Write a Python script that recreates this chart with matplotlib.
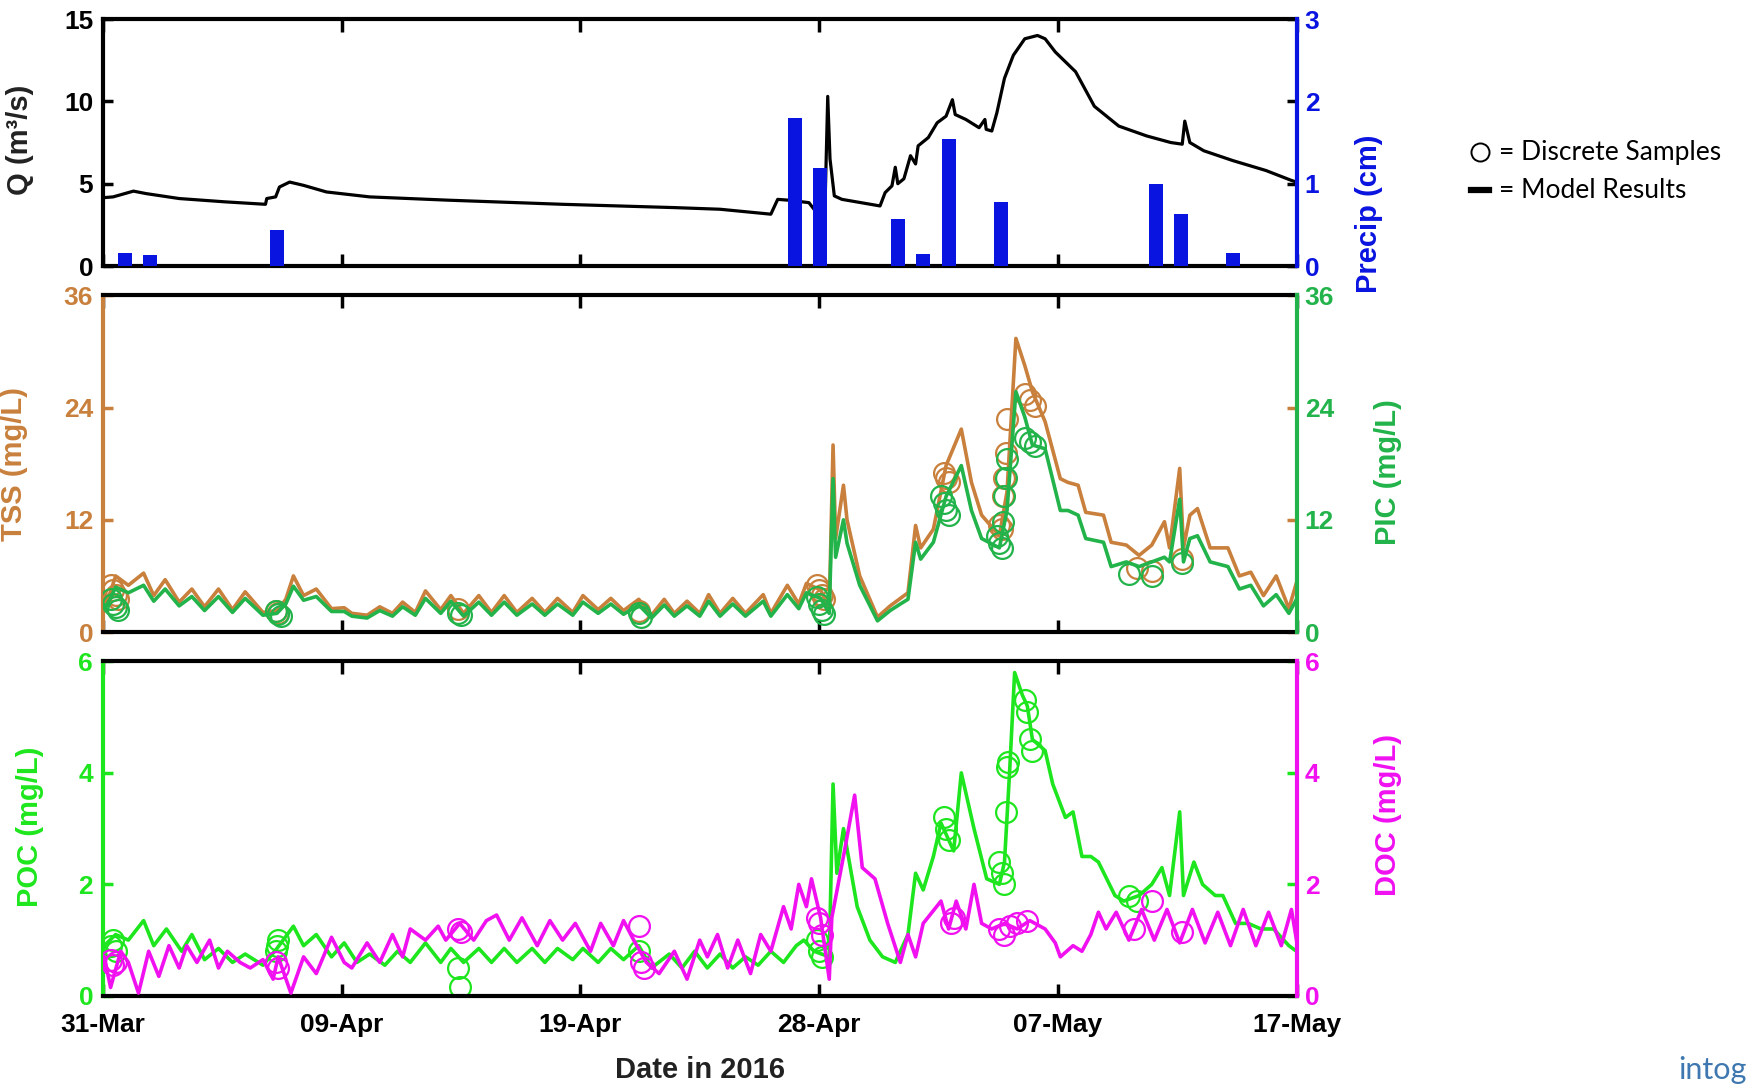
import numpy as np
import matplotlib.pyplot as plt
from matplotlib.lines import Line2D

plt.rcParams['font.family'] = ['Liberation Sans', 'DejaVu Sans']
plt.rcParams['font.weight'] = 'bold'
plt.rcParams['axes.labelweight'] = 'bold'

# --- data (days since 31-Mar-2016) ---
xtick_labels = ['31-Mar', '09-Apr', '19-Apr', '28-Apr', '07-May', '17-May']

# discharge Q (m3/s)
q_t = [0.0, 0.4, 1.2, 1.7, 3.0, 4.8, 6.4, 6.45, 6.8, 6.95, 7.35, 7.9, 8.8, 10.5, 13.6,
       18.1, 22.5, 24.3, 26.3, 26.57, 27.0, 27.8, 28.0, 28.44, 28.54, 28.63, 28.8, 29.1,
       30.6, 30.8, 31.07, 31.2, 31.3, 31.54, 31.8, 32.0, 32.1, 32.5, 32.85, 33.2, 33.45,
       33.56, 33.98, 34.5, 34.73, 34.78, 35.0, 35.2, 35.5, 35.85, 36.3, 36.8, 37.1, 37.5,
       38.3, 39.04, 40.0, 41.1, 42.05, 42.5, 42.6, 42.8, 43.35, 44.5, 45.8, 46.8, 47.0]
q = [4.15, 4.2, 4.55, 4.4, 4.1, 3.9, 3.75, 4.1, 4.2, 4.8, 5.1, 4.9, 4.5, 4.2, 4.0,
     3.75, 3.55, 3.45, 3.15, 4.05, 4.0, 3.85, 3.45, 4.05, 10.3, 6.5, 4.26, 4.05,
     3.65, 4.46, 4.87, 6.0, 5.0, 5.3, 6.7, 6.2, 7.3, 7.8, 8.7, 9.1, 10.1,
     9.2, 8.9, 8.4, 8.9, 8.3, 8.2, 9.3, 11.4, 12.8, 13.8, 14.0, 13.8, 13.0,
     11.8, 9.7, 8.5, 7.9, 7.5, 7.4, 8.8, 7.5, 7.0, 6.4, 5.8, 5.2, 5.1]

# daily precipitation (cm)
precip_t = [0.85, 1.85, 6.85, 27.25, 28.25, 31.3, 32.3, 33.3, 35.35, 41.45, 42.45, 44.5]
precip = [0.16, 0.14, 0.44, 1.8, 1.19, 0.57, 0.15, 1.54, 0.78, 1.0, 0.63, 0.16]

# TSS and PIC model results (mg/L)
mid_t = [0.0, 0.16, 0.5, 1.0, 1.6, 2.0, 2.45, 3.0, 3.5, 4.0, 4.55, 5.1, 5.6, 6.3, 6.85,
         7.2, 7.5, 7.9, 8.4, 9.0, 9.5, 9.8, 10.4, 10.9, 11.4, 11.8, 12.3, 12.7, 13.3,
         13.7, 14.2, 14.8, 15.3, 15.8, 16.3, 16.9, 17.4, 17.9, 18.5, 18.9, 19.5, 20.0,
         20.5, 21.1, 21.6, 22.1, 22.5, 23.0, 23.5, 23.85, 24.3, 24.8, 25.3, 26.0, 26.3,
         26.95, 27.4, 27.7, 28.26, 28.6, 28.75, 28.85, 29.16, 29.3, 29.8, 30.5, 31.0,
         31.4, 31.7, 32.0, 32.2, 32.7, 33.2, 33.8, 34.2, 34.6, 35.3, 35.6, 35.95, 36.3,
         36.6, 37.1, 37.7, 38.0, 38.4, 38.7, 39.4, 39.7, 40.3, 40.8, 41.3, 41.8, 42.0,
         42.4, 42.55, 42.8, 43.1, 43.6, 44.3, 44.75, 45.2, 45.7, 46.2, 46.7, 47.0]
tss = [3.5, 3.2, 6.0, 5.0, 6.3, 3.9, 5.6, 3.2, 4.6, 2.7, 4.6, 2.4, 4.3, 2.1, 2.3,
       3.5, 6.0, 3.9, 4.6, 2.5, 2.6, 2.0, 1.8, 2.7, 2.0, 3.2, 2.1, 4.4, 2.4,
       3.9, 2.0, 3.9, 2.1, 3.9, 2.1, 3.6, 2.1, 3.6, 2.1, 3.9, 2.4, 3.6,
       2.3, 3.5, 1.8, 3.5, 2.0, 3.3, 2.0, 4.0, 2.0, 3.6, 2.0, 4.0, 2.0,
       5.0, 3.0, 5.2, 4.5, 2.5, 20.0, 10.0, 15.7, 12.0, 6.0, 1.6, 2.8,
       3.6, 4.2, 11.4, 9.0, 11.0, 17.8, 21.7, 16.0, 12.5, 10.3, 15.0, 31.4, 28.5,
       25.7, 22.5, 16.4, 16.0, 15.7, 12.8, 12.5, 9.6, 9.3, 8.2, 9.3, 11.8, 9.0,
       17.5, 9.0, 12.5, 13.2, 9.0, 9.0, 6.0, 6.4, 3.9, 6.0, 2.5, 5.3]
pic = [3.0, 2.8, 4.8, 4.2, 5.0, 3.3, 4.6, 2.8, 3.8, 2.3, 3.8, 2.1, 3.6, 1.8, 2.0,
       3.0, 4.9, 3.4, 3.8, 2.2, 2.2, 1.7, 1.5, 2.3, 1.7, 2.7, 1.8, 3.6, 2.0,
       3.3, 1.7, 3.2, 1.8, 3.2, 1.8, 3.0, 1.8, 3.0, 1.8, 3.2, 2.0, 3.0,
       1.9, 2.9, 1.5, 2.9, 1.7, 2.8, 1.7, 3.3, 1.7, 3.0, 1.7, 3.3, 1.7,
       4.0, 2.5, 4.2, 3.6, 2.0, 16.4, 8.0, 12.0, 9.5, 5.0, 1.2, 2.3,
       3.0, 3.5, 9.6, 7.8, 9.6, 14.5, 17.8, 13.0, 10.0, 9.0, 13.0, 25.7, 23.0,
       20.0, 19.6, 13.0, 13.0, 12.5, 10.0, 9.6, 7.0, 7.5, 7.0, 7.5, 8.0, 7.5,
       14.2, 7.5, 10.0, 10.3, 7.5, 7.0, 4.6, 5.0, 2.8, 4.0, 2.0, 3.5]

# discrete samples
tss_samp_t = [0.3, 0.4, 0.5, 0.6, 6.8, 6.9, 14.0, 21.1, 28.1, 28.2, 28.3, 28.4, 33.1, 33.2,
              33.3, 35.3, 35.4, 35.45, 35.5, 35.55, 35.6, 36.3, 36.5, 36.7, 40.7, 41.3, 42.5]
tss_samp = [5.0, 4.5, 4.0, 3.5, 2.3, 2.0, 2.5, 2.2, 5.0, 4.5, 4.0, 3.5, 17.0, 16.5,
            16.0, 11.5, 11.0, 14.6, 16.5, 19.2, 22.8, 25.5, 24.8, 24.2, 6.8, 6.5, 7.8]
pic_samp_t = [0.3, 0.4, 0.5, 0.6, 6.8, 6.9, 7.0, 14.0, 14.1, 21.1, 21.2, 28.1, 28.2, 28.3,
              28.4, 33.0, 33.1, 33.2, 33.3, 35.2, 35.3, 35.4, 35.45, 35.5, 35.55, 35.6,
              36.3, 36.5, 36.7, 40.4, 41.3, 42.5]
pic_samp = [3.5, 3.0, 2.7, 2.4, 2.2, 1.9, 1.7, 2.0, 1.8, 2.0, 1.6, 3.8, 3.0, 2.4,
            1.9, 14.6, 13.8, 13.0, 12.5, 10.3, 9.5, 9.0, 11.8, 14.6, 16.5, 18.5,
            20.7, 20.3, 19.9, 6.2, 6.0, 7.4]

# POC model results (mg/L)
poc_t = [0.05, 0.5, 1.0, 1.6, 2.0, 2.5, 3.1, 3.5, 4.0, 4.55, 5.1, 5.6, 6.3, 6.85, 7.5,
         7.9, 8.4, 9.0, 9.5, 10.0, 10.5, 11.1, 11.6, 12.1, 12.7, 13.3, 13.7, 14.2, 14.8,
         15.3, 15.8, 16.3, 16.9, 17.4, 17.9, 18.5, 18.9, 19.5, 20.0, 20.5, 21.1, 21.6,
         22.3, 22.8, 23.3, 23.8, 24.3, 24.8, 25.3, 25.8, 26.3, 26.8, 27.3, 27.6, 28.0,
         28.6, 28.75, 28.9, 29.16, 29.7, 30.2, 30.7, 31.2, 31.7, 32.0, 32.3, 32.7, 33.0,
         33.3, 33.5, 33.8, 34.3, 34.8, 35.3, 35.5, 35.7, 35.9, 36.2, 36.4, 36.6, 37.1,
         37.4, 37.9, 38.2, 38.55, 38.9, 39.2, 39.85, 40.2, 40.8, 41.3, 41.7, 42.0, 42.4,
         42.55, 42.96, 43.3, 43.8, 44.1, 44.6, 45.1, 45.6, 46.1, 46.7, 47.0]
poc = [0.9, 1.1, 1.0, 1.35, 0.9, 1.2, 0.8, 1.1, 0.65, 0.85, 0.6, 0.75, 0.55, 0.85, 1.25,
       0.9, 1.1, 0.7, 0.95, 0.6, 0.75, 0.55, 0.8, 0.6, 0.95, 0.6, 0.85, 0.6, 0.85,
       0.6, 0.85, 0.6, 0.85, 0.6, 0.85, 0.65, 0.85, 0.6, 0.85, 0.65, 0.9, 0.5,
       0.75, 0.5, 0.8, 0.5, 0.75, 0.5, 0.7, 0.55, 0.8, 0.6, 0.9, 1.0, 0.8,
       0.7, 3.8, 2.2, 3.0, 1.6, 1.0, 0.7, 0.6, 1.1, 2.2, 1.9, 2.5, 3.1,
       2.8, 2.6, 4.0, 3.0, 2.1, 2.0, 2.4, 4.0, 5.8, 5.4, 5.2, 4.6, 4.4,
       3.8, 3.2, 3.3, 2.5, 2.5, 2.4, 1.8, 1.7, 1.8, 2.0, 2.3, 1.8, 3.3,
       1.8, 2.4, 2.0, 1.8, 1.8, 1.3, 1.3, 1.2, 1.2, 0.9, 0.8]

# DOC model results (mg/L)
doc_t = [0.05, 0.3, 0.7, 1.0, 1.4, 1.8, 2.2, 2.6, 3.0, 3.3, 3.7, 4.2, 4.55, 4.9, 5.4,
         5.8, 6.3, 6.7, 6.9, 7.4, 7.9, 8.4, 9.0, 9.5, 9.8, 10.4, 10.9, 11.4, 11.8, 12.1,
         12.7, 13.2, 13.5, 14.05, 14.6, 15.1, 15.5, 16.0, 16.5, 17.1, 17.6, 18.1, 18.6,
         19.2, 19.6, 20.1, 20.5, 20.9, 21.4, 21.9, 22.5, 23.0, 23.5, 23.8, 24.2, 24.6,
         25.0, 25.5, 25.9, 26.3, 26.8, 27.1, 27.4, 27.7, 27.9, 28.26, 28.6, 28.7, 29.2,
         29.6, 29.9, 30.4, 30.9, 31.4, 31.7, 32.0, 32.3, 33.0, 33.3, 33.6, 33.98, 34.3,
         34.6, 35.0, 35.5, 36.0, 36.5, 37.1, 37.5, 37.7, 38.2, 38.55, 38.9, 39.2, 39.5,
         39.9, 40.4, 40.9, 41.4, 41.9, 42.4, 42.9, 43.4, 43.9, 44.4, 44.9, 45.4, 45.9,
         46.4, 46.8, 47.0]
doc = [0.7, 0.15, 0.8, 0.6, 0.05, 0.8, 0.35, 0.9, 0.5, 0.9, 0.6, 1.0, 0.5, 0.8, 0.6,
       0.5, 0.65, 0.3, 0.7, 0.05, 0.7, 0.4, 1.05, 0.6, 0.5, 0.95, 0.6, 1.1, 0.7, 1.2,
       1.0, 1.25, 1.0, 1.3, 1.0, 1.35, 1.45, 1.0, 1.4, 0.9, 1.35, 1.0, 1.3,
       0.8, 1.3, 0.9, 1.35, 1.0, 0.6, 0.4, 0.8, 0.3, 1.0, 0.7, 1.1, 0.5,
       1.0, 0.4, 1.1, 0.8, 1.6, 1.2, 2.0, 1.6, 2.1, 1.4, 0.3, 1.4, 2.6,
       3.6, 2.3, 2.1, 1.3, 0.6, 1.1, 0.7, 1.3, 1.7, 1.2, 1.7, 1.2, 2.0,
       1.3, 1.2, 1.3, 1.2, 1.35, 1.2, 0.95, 0.7, 0.9, 0.8, 1.1, 1.5, 1.2,
       1.5, 1.0, 1.55, 1.0, 1.55, 0.95, 1.55, 0.95, 1.5, 0.9, 1.55, 0.9, 1.5,
       0.9, 1.55, 1.0]

poc_samp_t = [0.3, 0.4, 0.5, 6.8, 6.85, 6.9, 14.0, 14.05, 21.1, 28.1, 28.2, 28.3, 33.1, 33.2,
              33.3, 35.3, 35.4, 35.5, 35.55, 35.6, 35.65, 36.3, 36.4, 36.5, 36.6, 40.4, 40.7]
poc_samp = [0.9, 1.0, 0.8, 0.8, 0.9, 1.0, 0.5, 0.15, 0.8, 1.0, 0.8, 0.7, 3.2, 3.0,
            2.8, 2.4, 2.2, 2.0, 3.3, 4.1, 4.2, 5.3, 5.1, 4.6, 4.4, 1.8, 1.7]
doc_samp_t = [0.3, 0.4, 0.5, 6.8, 6.9, 14.0, 14.1, 21.1, 21.2, 21.3, 28.1, 28.2, 28.3,
              33.4, 33.5, 35.3, 35.5, 35.7, 36.0, 36.4, 40.6, 41.3, 42.5]
doc_samp = [0.65, 0.55, 0.6, 0.6, 0.5, 1.2, 1.15, 1.25, 0.6, 0.5, 1.4, 1.3, 1.1,
            1.3, 1.4, 1.2, 1.1, 1.25, 1.3, 1.35, 1.2, 1.7, 1.15]

# colours
BLUE = '#0a14e0'
BROWN = '#c8803c'
GREEN = '#22b34a'
LIME = '#1ee61e'
MAGENTA = '#f010f0'

fig = plt.figure(figsize=(17.63, 10.86), dpi=100)
left, width = 0.0584, 0.677
ax1 = fig.add_axes([left, 0.755, width, 0.2275])
ax2 = fig.add_axes([left, 0.418, width, 0.310])
ax3 = fig.add_axes([left, 0.083, width, 0.308])
ax1b = ax1.twinx()
ax2b = ax2.twinx()
ax3b = ax3.twinx()

xticks = np.linspace(0, 47, 6)


def style_pair(ax, axb, lcol, rcol, ylim_l, yt_l, ylim_r, yt_r, show_x):
    ax.set_xlim(0, 47)
    ax.set_xticks(xticks)
    ax.set_ylim(ylim_l)
    ax.set_yticks(yt_l)
    axb.set_ylim(ylim_r)
    axb.set_yticks(yt_r)
    ax.tick_params(axis='x', direction='in', top=True, bottom=True, length=9, width=2.5,
                   color='k', labelbottom=show_x, labelsize=19, pad=12)
    ax.tick_params(axis='y', direction='in', left=True, right=True, length=7, width=2.5,
                   color=lcol, labelcolor=lcol, labelsize=19, pad=7)
    axb.tick_params(axis='y', direction='in', right=True, length=0,
                    labelcolor=rcol, labelsize=19, pad=6)
    for s in ['top', 'bottom']:
        ax.spines[s].set_color('k')
        ax.spines[s].set_linewidth(3)
        axb.spines[s].set_visible(False)
    ax.spines['left'].set_color(lcol)
    ax.spines['left'].set_linewidth(3)
    ax.spines['right'].set_visible(False)
    axb.spines['left'].set_visible(False)
    axb.spines['right'].set_color(rcol)
    axb.spines['right'].set_linewidth(3)


# --- top: discharge and precipitation ---
ax1.plot(q_t, q, color='k', lw=2.3)
ax1b.bar(precip_t, precip, width=0.55, color=BLUE)
style_pair(ax1, ax1b, 'k', BLUE, (0, 15), [0, 5, 10, 15], (0, 3), [0, 1, 2, 3], False)
ax1.set_ylabel('Q (m³/s)', fontsize=21, color='#222222')
ax1.yaxis.set_label_coords(-0.058, 0.51)
ax1b.set_ylabel('Precip (cm)', fontsize=21, color=BLUE)
ax1b.yaxis.set_label_coords(1.049, 0.21)

# --- middle: TSS and PIC ---
ax2.plot(mid_t, tss, color=BROWN, lw=2.6)
ax2.plot(tss_samp_t, tss_samp, 'o', mfc='none', mec=BROWN, ms=15, mew=1.6)
ax2b.plot(mid_t, pic, color=GREEN, lw=2.6)
ax2b.plot(pic_samp_t, pic_samp, 'o', mfc='none', mec=GREEN, ms=15, mew=1.6)
style_pair(ax2, ax2b, BROWN, GREEN, (0, 36), [0, 12, 24, 36], (0, 36), [0, 12, 24, 36], False)
ax2.set_ylabel('TSS (mg/L)', fontsize=21, color=BROWN)
ax2.yaxis.set_label_coords(-0.063, 0.5)
ax2b.set_ylabel('PIC (mg/L)', fontsize=21, color=GREEN)
ax2b.yaxis.set_label_coords(1.065, 0.475)

# --- bottom: POC and DOC ---
ax3.plot(poc_t, poc, color=LIME, lw=2.6)
ax3.plot(poc_samp_t, poc_samp, 'o', mfc='none', mec=LIME, ms=15, mew=1.6)
ax3b.plot(doc_t, doc, color=MAGENTA, lw=2.6)
ax3b.plot(doc_samp_t, doc_samp, 'o', mfc='none', mec=MAGENTA, ms=15, mew=1.6)
style_pair(ax3, ax3b, LIME, MAGENTA, (0, 6), [0, 2, 4, 6], (0, 6), [0, 2, 4, 6], True)
ax3.set_xticklabels(xtick_labels)
ax3.set_ylabel('POC (mg/L)', fontsize=21, color=LIME)
ax3.yaxis.set_label_coords(-0.049, 0.507)
ax3b.set_ylabel('DOC (mg/L)', fontsize=21, color=MAGENTA)
ax3b.yaxis.set_label_coords(1.065, 0.54)
ax3.set_xlabel('Date in 2016', fontsize=21, color='#222222')
ax3.xaxis.set_label_coords(0.5, -0.18)

# legend on the right: circle / bar symbols plus text
fig.add_artist(Line2D([0.8395], [0.860], marker='o', mfc='none', mec='k', ms=13, mew=1.4,
                      transform=fig.transFigure))
fig.add_artist(Line2D([0.8345, 0.8445], [0.825, 0.825], color='k', lw=4.5,
                      transform=fig.transFigure))
fig.text(0.850, 0.860, '= Discrete Samples', fontsize=19, fontweight='normal',
         family=['Lato', 'DejaVu Sans'], va='center')
fig.text(0.850, 0.825, '= Model Results', fontsize=19, fontweight='normal',
         family=['Lato', 'DejaVu Sans'], va='center')

# logo text at the bottom right
fig.text(0.952, 0.002, 'intog', fontsize=22, fontweight='normal', color='#3f78b0',
         family=['Lato', 'DejaVu Sans'], va='bottom')

fig.savefig('out.png', dpi=100)
